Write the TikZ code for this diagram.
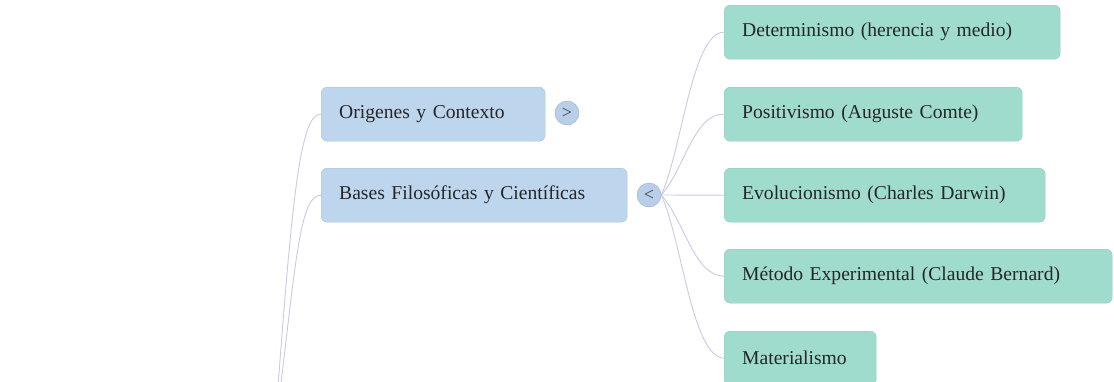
\documentclass[tikz,border=0pt]{standalone}
\usepackage{fontspec}
\setmainfont{Liberation Serif}
\begin{document}
\begin{tikzpicture}[x=1pt,y=-1pt,
  box/.style={rounded corners=6pt, anchor=north west, inner xsep=18pt, inner ysep=0pt,
    minimum height=54pt, align=left, font=\fontsize{19.6}{22}\selectfont, text=black!85},
  bluebox/.style={box, fill=blue1, draw=blue1!90!black, line width=0.4pt},
  tealbox/.style={box, fill=teal1, draw=teal1!92!black, line width=0.4pt},
  toggle/.style={circle, fill=circ1, draw=circ1!85!black, line width=0.4pt, minimum size=24pt, inner sep=0pt, font=\fontsize{18}{18}\selectfont, text=black!75},
  link/.style={draw=line1, line width=0.9pt}
]
\definecolor{blue1}{HTML}{BDD6EE}
\definecolor{teal1}{HTML}{9FDCCE}
\definecolor{circ1}{HTML}{B9CFE9}
\definecolor{line1}{HTML}{CACAE8}
\clip (0,0) rectangle (1114,381);
\fill[white] (0,0) rectangle (1114,381);

\node[bluebox, text width=188pt] (orig) at (321,87) {Origenes y Contexto};
\node[bluebox, text width=270pt] (bases) at (321,168) {Bases Filosóficas y Científicas};
\node[toggle] (t1) at (567,113) {>};
\node[toggle] (t2) at (649,195) {<};

\node[tealbox, text width=300pt] (det) at (724,5) {Determinismo (herencia y medio)};
\node[tealbox, text width=262pt] (pos) at (724,87) {Positivismo (Auguste Comte)};
\node[tealbox, text width=285pt] (evo) at (724,168) {Evolucionismo (Charles Darwin)};
\node[tealbox, text width=352pt] (met) at (724,249) {Método Experimental (Claude Bernard)};
\node[tealbox, text width=116pt] (mat) at (724,331) {Materialismo};

\coordinate (root1) at (277,400);
\coordinate (root2) at (279,400);

\draw[link] (root1) .. controls (292,200) and (300,113) .. (orig.west);
\draw[link] (root2) .. controls (296,260) and (300,195) .. (bases.west);

\draw[link] (t2.east) .. controls (682,150) and (692,32) .. (det.west);
\draw[link] (t2.east) .. controls (684,170) and (694,113) .. (pos.west);
\draw[link] (t2.east) -- (evo.west);
\draw[link] (t2.east) .. controls (684,220) and (694,276) .. (met.west);
\draw[link] (t2.east) .. controls (682,240) and (692,357) .. (mat.west);
\end{tikzpicture}
\end{document}
